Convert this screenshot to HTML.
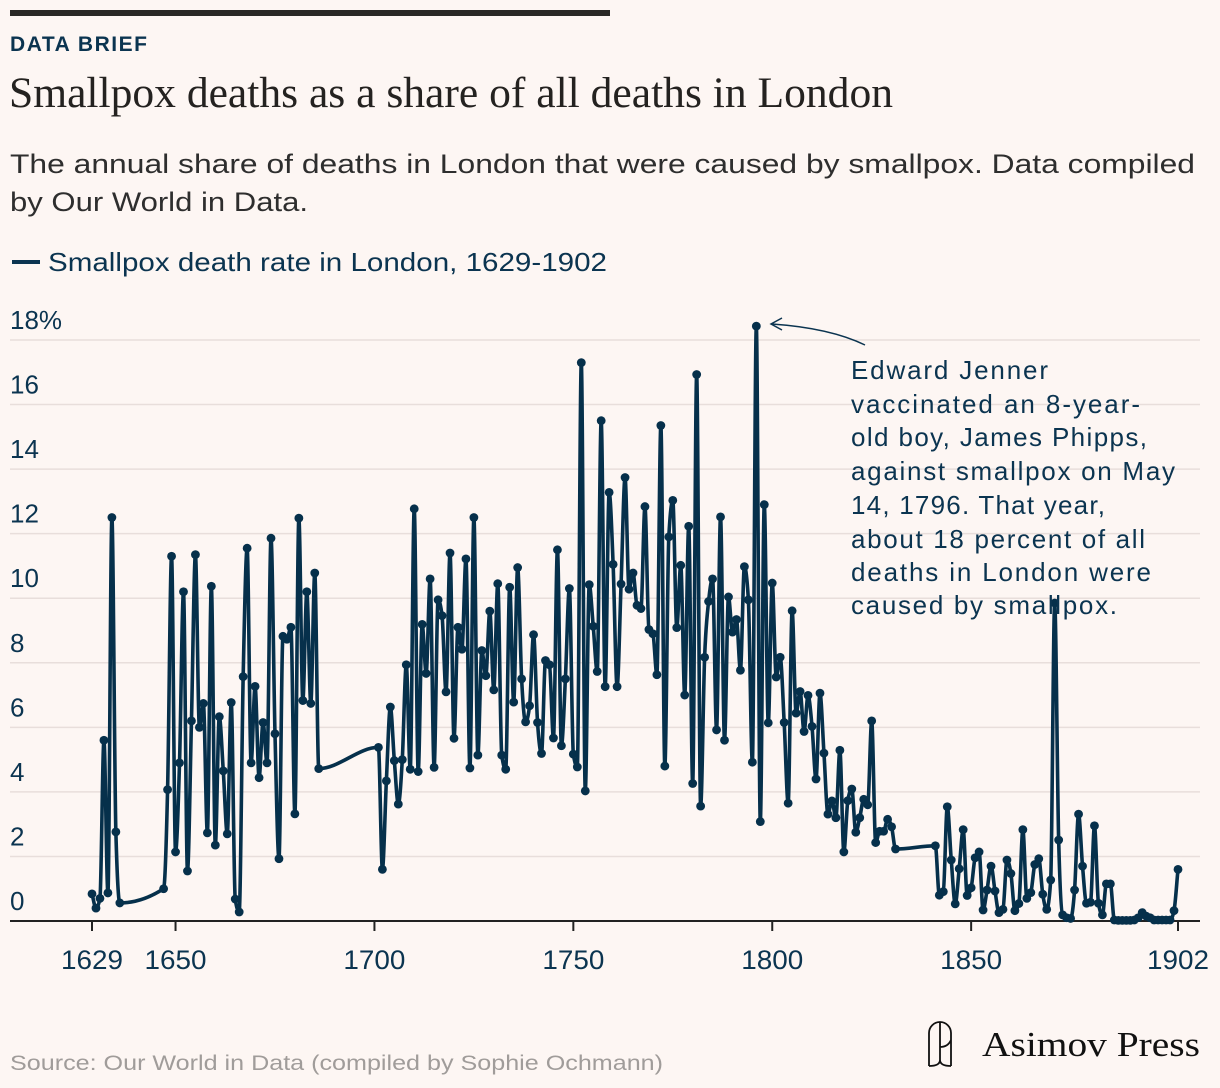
<!DOCTYPE html>
<html><head><meta charset="utf-8"><style>
html,body{margin:0;padding:0;background:#fdf6f3;}
svg{display:block;font-family:"Liberation Sans",sans-serif;}
</style></head><body>
<svg width="1220" height="1088" viewBox="0 0 1220 1088">
<rect x="0" y="0" width="1220" height="1088" fill="#fdf6f3"/>
<rect x="10" y="10" width="600" height="6" fill="#2a2826"/>
<text x="10" y="51" font-size="21" font-weight="bold" fill="#0b3450" textLength="137">DATA BRIEF</text>
<text x="9" y="107" font-family="Liberation Serif, serif" font-size="43" fill="#242220" textLength="884" lengthAdjust="spacingAndGlyphs">Smallpox deaths as a share of all deaths in London</text>
<text x="10" y="173" font-size="27" fill="#2e2e2e" textLength="1185" lengthAdjust="spacingAndGlyphs">The annual share of deaths in London that were caused by smallpox. Data compiled</text>
<text x="10" y="211" font-size="27" fill="#2e2e2e" textLength="298" lengthAdjust="spacingAndGlyphs">by Our World in Data.</text>
<line x1="12" y1="262" x2="40" y2="262" stroke="#0b3450" stroke-width="4"/>
<text x="48" y="271" font-size="26" fill="#0b3450" textLength="559" lengthAdjust="spacingAndGlyphs">Smallpox death rate in London, 1629-1902</text>
<g id="grid"></g>
<g id="yaxis"></g>
<g id="xaxis"></g>
<g id="series"></g>
<g>
<path d="M865 345 Q830 328 772 324" fill="none" stroke="#0b3450" stroke-width="1.5"/>
<path d="M782 318 L771 324 L782 330" fill="none" stroke="#0b3450" stroke-width="1.5"/>
<text font-size="26" fill="#0b3450" lengthAdjust="spacingAndGlyphs">
<tspan x="851" y="379" textLength="197">Edward Jenner</tspan>
<tspan x="851" y="413" textLength="289">vaccinated an 8-year-</tspan>
<tspan x="851" y="446" textLength="296">old boy, James Phipps,</tspan>
<tspan x="851" y="480" textLength="324">against smallpox on May</tspan>
<tspan x="851" y="514" textLength="254">14, 1796. That year,</tspan>
<tspan x="851" y="548" textLength="294">about 18 percent of all</tspan>
<tspan x="851" y="581" textLength="300">deaths in London were</tspan>
<tspan x="851" y="614" textLength="266">caused by smallpox.</tspan>
</text>
</g>
<g>
<path d="M929 1066 L929 1033 A11 11 0 0 1 951 1033 L951 1066 M940 1022 L940 1060 M940 1060 Q940 1066 929 1066 M940 1060 Q940 1066 951 1066 M940 1047 Q948 1047 951 1040" fill="none" stroke="#111" stroke-width="1.8"/>
<text x="982" y="1056" font-family="Liberation Serif, serif" font-size="35" fill="#111" textLength="218" lengthAdjust="spacingAndGlyphs">Asimov Press</text>
</g>
<text x="10" y="1070" font-size="21" fill="#a09c9a" textLength="653" lengthAdjust="spacingAndGlyphs">Source: Our World in Data (compiled by Sophie Ochmann)</text>
</svg>
<script>
const years = [1629,1630,1631,1632,1633,1634,1635,1636,1647,1648,1649,1650,1651,1652,1653,1654,1655,1656,1657,1658,1659,1660,1661,1662,1663,1664,1665,1666,1667,1668,1669,1670,1671,1672,1673,1674,1675,1676,1677,1678,1679,1680,1681,1682,1683,1684,1685,1686,
1701,1702,1703,1704,1705,1706,1707,1708,1709,1710,1711,1712,1713,1714,1715,1716,1717,1718,1719,1720,1721,1722,1723,1724,1725,1726,1727,1728,1729,1730,1731,1732,1733,1734,1735,1736,1737,1738,1739,1740,1741,1742,1743,1744,1745,1746,1747,1748,1749,1750,1751,1752,1753,
1754,1755,1756,1757,1758,1759,1760,1761,1762,1763,1764,1765,1766,1767,1768,1769,1770,1771,1772,1773,1774,1775,1776,1777,1778,1779,1780,1781,1782,1783,1784,1785,1786,1787,1788,1789,1790,1791,1792,1793,1794,1795,1796,1797,1798,1799,1800,
1801,1802,1803,1804,1805,1806,1807,1808,1809,1810,1811,1812,1813,1814,1815,1816,1817,1818,1819,1820,1821,1822,1823,1824,1825,1826,1827,1828,1829,1830,1831,
1841,1842,1843,1844,1845,1846,1847,1848,1849,1850,1851,1852,1853,1854,1855,1856,1857,1858,1859,1860,1861,1862,1863,1864,1865,1866,1867,1868,1869,1870,1871,1872,1873,1874,1875,1876,1877,1878,1879,1880,1881,1882,1883,1884,1885,1886,1887,1888,1889,1890,1891,1892,1893,1894,1895,1896,1897,1898,1899,1900,1901,1902];
const values = [0.84,0.4,0.7,5.6,0.87,12.5,2.76,0.56,1.0,4.07,11.3,2.14,4.9,10.2,1.55,6.2,11.35,6.0,6.74,2.73,10.37,2.35,6.33,4.65,2.7,6.77,0.68,0.28,7.57,11.55,4.9,7.27,4.44,6.15,4.9,11.86,5.8,1.93,8.82,8.73,9.1,3.32,12.48,6.83,10.2,6.74,10.78,4.72,
5.38,1.6,4.34,6.63,4.97,3.62,5.0,7.94,4.7,12.77,4.63,9.19,7.67,10.6,4.76,9.95,9.46,7.1,11.4,5.66,9.1,8.42,11.22,4.74,12.5,5.14,8.38,7.6,9.6,7.16,10.45,5.14,4.7,10.34,6.78,10.95,7.5,6.17,6.67,8.87,6.15,5.19,8.07,7.94,5.67,11.5,5.43,7.5,10.3,5.17,4.77,17.3,4.03,
10.42,9.13,7.73,15.5,7.26,13.28,11.05,7.26,10.44,13.74,10.28,10.78,9.78,9.68,12.84,9.03,8.9,7.63,15.35,4.8,11.9,13.03,9.09,11.02,7.0,12.23,4.26,16.93,3.56,8.17,9.9,10.6,5.92,12.52,5.6,10.04,8.95,9.34,7.77,10.98,9.95,4.92,18.43,3.08,12.9,6.14,10.47,
7.56,8.17,6.15,3.65,9.61,6.44,7.11,5.87,6.99,6.03,4.4,7.06,5.2,3.31,3.72,3.2,5.29,2.14,3.73,4.09,2.75,3.2,3.77,3.6,6.2,2.43,2.78,2.78,3.15,2.92,2.23,
2.33,0.8,0.91,3.54,1.89,0.53,1.62,2.83,0.79,1.03,1.96,2.14,0.34,0.96,1.7,0.93,0.26,0.36,1.89,1.47,0.32,0.54,2.83,0.7,0.88,1.75,1.93,0.83,0.36,1.27,9.85,2.51,0.19,0.1,0.08,0.96,3.31,1.7,0.55,0.58,2.95,0.55,0.19,1.15,1.15,0.03,0.02,0.02,0.02,0.02,0.03,0.1,0.26,0.15,0.1,0.03,0.03,0.03,0.03,0.03,0.32,1.6];
const yTicks = [0,2,4,6,8,10,12,14,16,18];
const yTickLabels = ["0","2","4","6","8","10","12","14","16","18%"];
const xTicks = [1629,1650,1700,1750,1800,1850,1902];

const NS = "http://www.w3.org/2000/svg";
function xs(yr){ return 92 + (yr - 1629) * (1178 - 92) / (1902 - 1629); }
function ys(v){ return 921 - v * (921 - 340) / 18; }
function mk(tag, attrs, parent){ const e = document.createElementNS(NS, tag); for (const k in attrs) e.setAttribute(k, attrs[k]); parent.appendChild(e); return e; }

const grid = document.getElementById('grid');
const yaxis = document.getElementById('yaxis');
yTicks.forEach((t, i) => {
  if (t > 0) {
    const g = mk('line', {x1:10, x2:1200, y1:ys(t), y2:ys(t), stroke:'#e8dedb', 'stroke-width':1.5}, grid);
    
    
  }
  const tx = mk('text', {x:10, y:ys(t) - 11, 'font-size':26, fill:'#0b3450'}, yaxis);
  tx.textContent = yTickLabels[i];
  
  
});
const xaxis = document.getElementById('xaxis');
const ax = mk('line', {x1:10, x2:1200, y1:921, y2:921, stroke:'#222', 'stroke-width':2}, xaxis);


xTicks.forEach(t => {
  const tk = mk('line', {x1:xs(t), x2:xs(t), y1:921, y2:931, stroke:'#222', 'stroke-width':2}, xaxis);
  
  
  const tl = mk('text', {x:xs(t), y:969, 'font-size':27, fill:'#0b3450', 'text-anchor':'middle', textLength:62, lengthAdjust:'spacingAndGlyphs'}, xaxis);
  tl.textContent = String(t);
  
  
});

function monotonePath(px, py){
  const n = px.length;
  if (n < 2) return '';
  const d = [], m = [];
  for (let i = 0; i < n - 1; i++) d.push((py[i+1]-py[i])/(px[i+1]-px[i]));
  m[0] = d[0]; m[n-1] = d[n-2];
  for (let i = 1; i < n - 1; i++) {
    if (d[i-1]*d[i] <= 0) m[i] = 0;
    else {
      const h0 = px[i]-px[i-1], h1 = px[i+1]-px[i];
      const p = (d[i-1]*h1 + d[i]*h0)/(h0+h1);
      m[i] = (Math.sign(d[i-1]) + Math.sign(d[i])) * Math.min(Math.abs(d[i-1]), Math.abs(d[i]), 0.5*Math.abs(p));
    }
  }
  let s = 'M' + px[0] + ',' + py[0];
  for (let i = 0; i < n - 1; i++) {
    const h = (px[i+1]-px[i])/3;
    s += 'C' + (px[i]+h) + ',' + (py[i]+m[i]*h) + ',' + (px[i+1]-h) + ',' + (py[i+1]-m[i+1]*h) + ',' + px[i+1] + ',' + py[i+1];
  }
  return s;
}
const series = document.getElementById('series');
const PX = years.map(xs), PY = values.map(ys);
const line = mk('path', {d: monotonePath(PX, PY), fill:'none', stroke:'#06304b', 'stroke-width':3.6, 'stroke-linejoin':'round'}, series);


years.forEach((yr, i) => {
  const c = mk('circle', {cx:PX[i], cy:PY[i], r:4.4, fill:'#06304b'}, series);
  
  
});
</script>
</body></html>
